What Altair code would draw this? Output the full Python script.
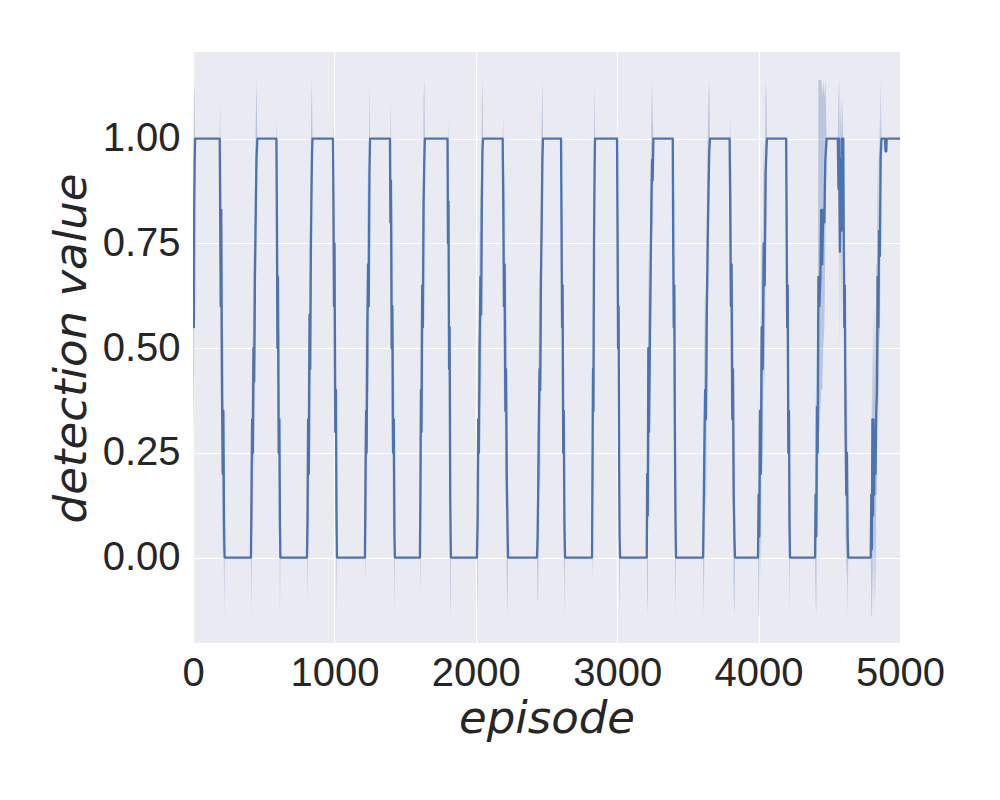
import altair as alt
import pandas as pd

# episode positions of the sampled points (flats are implied between transitions)
episode = [
    0, 3, 6, 9, 12, 15,
    189, 192, 196, 200, 205, 210, 215, 219, 222, 224,
    410, 414, 418, 423, 428, 433, 438, 444, 449, 455,
    590, 593, 597, 601, 606, 611, 615, 618,
    806, 810, 814, 819, 824, 829, 834, 839, 842, 845,
    990, 993, 997, 1001, 1006, 1011, 1015, 1018,
    1216, 1220, 1224, 1228, 1233, 1238, 1243, 1248, 1252,
    1393, 1396, 1400, 1405, 1410, 1415, 1420, 1425, 1428,
    1605, 1608, 1612, 1616, 1621, 1626, 1631, 1636, 1640,
    1800, 1803, 1807, 1811, 1815, 1819, 1822, 1824,
    2008, 2012, 2017, 2022, 2027, 2033, 2038, 2043, 2047, 2051,
    2190, 2194, 2199, 2204, 2209, 2214, 2219, 2224, 2228,
    2433, 2437, 2441, 2446, 2451, 2456, 2461, 2466, 2471, 2475,
    2603, 2606, 2610, 2614, 2618, 2622, 2627, 2631,
    2822, 2825, 2829, 2832, 2836, 2840, 2843,
    2999, 3002, 3006, 3010, 3014, 3017, 3020,
    3209, 3212, 3216, 3220, 3225, 3230, 3236, 3242, 3247, 3251, 3256,
    3393, 3396, 3400, 3404, 3408, 3412, 3416,
    3607, 3611, 3616, 3622, 3628, 3634, 3640, 3646, 3651, 3656,
    3795, 3799, 3804, 3809, 3814, 3819, 3824, 3829, 3833,
    3996, 4000, 4005, 4010, 4016, 4022, 4029, 4036, 4043, 4050, 4055, 4059,
    4195, 4198, 4202, 4206, 4210, 4215, 4219, 4222,
    4399, 4403, 4408, 4413, 4418, 4423, 4430, 4437, 4443, 4450, 4457, 4465, 4472, 4481,
    4560, 4565, 4570, 4575, 4580, 4585, 4590,
    4599, 4602, 4606, 4610, 4615, 4620, 4625, 4630, 4634,
    4793, 4797, 4801, 4805, 4809, 4813, 4817, 4822, 4827, 4832, 4837, 4842, 4847, 4852, 4858, 4863, 4869,
    4894, 4897, 4903, 4906, 5000,
]

# mean detection value
detection = [
    0.60, 0.75, 0.55, 0.85, 0.95, 1,
    1, 0.83, 0.60, 0.83, 0.40, 0.20, 0.35, 0.10, 0.02, 0,
    0, 0.17, 0.33, 0.25, 0.50, 0.42, 0.67, 0.83, 0.95, 1,
    1, 0.83, 0.50, 0.67, 0.25, 0.33, 0.08, 0,
    0, 0.10, 0.33, 0.20, 0.58, 0.45, 0.75, 0.90, 0.97, 1,
    1, 0.85, 0.60, 0.75, 0.30, 0.40, 0.10, 0,
    0, 0.20, 0.35, 0.25, 0.55, 0.70, 0.60, 0.92, 1,
    1, 0.80, 0.90, 0.50, 0.60, 0.25, 0.33, 0.05, 0,
    0, 0.15, 0.40, 0.30, 0.65, 0.55, 0.85, 0.95, 1,
    1, 0.75, 0.85, 0.45, 0.55, 0.15, 0.05, 0,
    0, 0.08, 0.33, 0.25, 0.50, 0.67, 0.58, 0.85, 0.97, 1,
    1, 0.85, 0.60, 0.70, 0.35, 0.45, 0.20, 0.08, 0,
    0, 0.05, 0.15, 0.33, 0.45, 0.40, 0.67, 0.80, 0.95, 1,
    1, 0.80, 0.55, 0.65, 0.25, 0.35, 0.08, 0,
    0, 0.20, 0.45, 0.35, 0.75, 0.92, 1,
    1, 0.80, 0.50, 0.60, 0.20, 0.05, 0,
    0, 0.20, 0.10, 0.50, 0.30, 0.47, 0.67, 0.85, 0.95, 0.90, 1,
    1, 0.75, 0.55, 0.65, 0.30, 0.10, 0,
    0, 0.10, 0.25, 0.40, 0.33, 0.60, 0.75, 0.88, 0.97, 1,
    1, 0.85, 0.60, 0.70, 0.33, 0.45, 0.15, 0.05, 0,
    0, 0.15, 0.05, 0.35, 0.20, 0.55, 0.45, 0.75, 0.65, 0.92, 0.97, 1,
    1, 0.80, 0.55, 0.65, 0.25, 0.35, 0.08, 0,
    0, 0.15, 0.05, 0.36, 0.25, 0.67, 0.60, 0.67, 0.83, 0.70, 0.83, 0.80, 0.95, 1,
    1, 0.88, 1.00, 0.73, 0.95, 0.78, 1.00,
    1, 0.75, 0.55, 0.65, 0.30, 0.15, 0.25, 0.05, 0,
    0, 0.15, 0.02, 0.33, 0.10, 0.33, 0.15, 0.30, 0.20, 0.35, 0.40, 0.67, 0.55, 0.78, 0.72, 0.95, 1,
    1, 0.97, 0.97, 1, 1,
]

# lower edge of the shaded band
band_lo = [
    0.20, 0.45, 0.30, 0.60, 0.85, 1,
    1, 0.70, 0.40, 0.65, 0.15, 0.00, 0.10, -0.05, -0.14, 0,
    0, -0.14, 0.10, 0.05, 0.25, 0.20, 0.45, 0.60, 0.80, 1,
    1, 0.65, 0.25, 0.45, 0.05, 0.10, -0.14, 0,
    0, -0.10, 0.10, 0.00, 0.35, 0.20, 0.50, 0.70, 0.85, 1,
    1, 0.70, 0.35, 0.50, 0.05, 0.15, -0.14, 0,
    0, -0.05, 0.10, 0.00, 0.30, 0.45, 0.35, 0.75, 1,
    1, 0.60, 0.70, 0.25, 0.35, 0.00, 0.10, -0.14, 0,
    0, -0.10, 0.15, 0.05, 0.40, 0.30, 0.65, 0.80, 1,
    1, 0.55, 0.65, 0.20, 0.30, -0.10, -0.14, 0,
    0, -0.14, 0.10, 0.00, 0.25, 0.45, 0.35, 0.65, 0.85, 1,
    1, 0.65, 0.35, 0.45, 0.10, 0.20, -0.05, -0.14, 0,
    0, -0.10, -0.10, 0.10, 0.20, 0.15, 0.45, 0.60, 0.80, 1,
    1, 0.60, 0.30, 0.40, 0.00, 0.10, -0.14, 0,
    0, -0.05, 0.20, 0.10, 0.50, 0.75, 1,
    1, 0.60, 0.25, 0.35, -0.05, -0.14, 0,
    0, -0.10, -0.14, 0.25, 0.05, 0.25, 0.45, 0.65, 0.80, 0.75, 1,
    1, 0.55, 0.30, 0.40, 0.05, -0.14, 0,
    0, -0.14, 0.00, 0.15, 0.10, 0.35, 0.50, 0.70, 0.85, 1,
    1, 0.65, 0.35, 0.45, 0.10, 0.20, -0.10, -0.14, 0,
    0, -0.14, -0.14, 0.10, -0.05, 0.30, 0.20, 0.50, 0.40, 0.75, 0.85, 1,
    1, 0.60, 0.30, 0.40, 0.00, 0.10, -0.14, 0,
    0, -0.10, -0.14, 0.15, 0.05, 0.30, 0.30, 0.35, 0.40, 0.40, 0.50, 0.55, 0.75, 1,
    1, 0.70, 0.90, 0.50, 0.80, 0.55, 0.90,
    1, 0.55, 0.30, 0.40, 0.05, -0.05, 0.00, -0.14, 0,
    0, -0.14, -0.14, 0.00, -0.14, 0.10, -0.14, 0.05, -0.10, 0.15, 0.15, 0.45, 0.30, 0.55, 0.50, 0.80, 1,
    1, 0.97, 0.97, 1, 1,
]

# upper edge of the shaded band
band_hi = [
    1.00, 1.14, 0.80, 1.10, 1.14, 1,
    1, 1.10, 0.85, 1.00, 0.65, 0.45, 0.55, 0.25, 0.15, 0,
    0, 0.35, 0.55, 0.45, 0.75, 0.65, 0.90, 1.05, 1.14, 1,
    1, 1.05, 0.75, 0.90, 0.50, 0.55, 0.25, 0,
    0, 0.30, 0.55, 0.40, 0.80, 0.70, 1.00, 1.14, 1.10, 1,
    1, 1.05, 0.85, 0.95, 0.55, 0.60, 0.30, 0,
    0, 0.45, 0.60, 0.50, 0.80, 0.95, 0.85, 1.14, 1,
    1, 1.00, 1.10, 0.75, 0.85, 0.50, 0.55, 0.20, 0,
    0, 0.35, 0.65, 0.55, 0.90, 0.80, 1.10, 1.14, 1,
    1, 0.95, 1.05, 0.70, 0.80, 0.35, 0.20, 0,
    0, 0.30, 0.55, 0.50, 0.75, 0.90, 0.80, 1.10, 1.14, 1,
    1, 1.05, 0.85, 0.95, 0.60, 0.70, 0.45, 0.25, 0,
    0, 0.20, 0.40, 0.55, 0.70, 0.65, 0.90, 1.05, 1.14, 1,
    1, 1.00, 0.80, 0.90, 0.50, 0.60, 0.25, 0,
    0, 0.45, 0.70, 0.60, 1.00, 1.14, 1,
    1, 1.05, 0.75, 0.85, 0.45, 0.20, 0,
    0, 0.45, 0.30, 0.75, 0.55, 0.70, 0.90, 1.05, 1.14, 1.05, 1,
    1, 0.95, 0.80, 0.90, 0.55, 0.30, 0,
    0, 0.30, 0.50, 0.65, 0.55, 0.85, 1.00, 1.10, 1.14, 1,
    1, 1.05, 0.85, 0.95, 0.55, 0.70, 0.40, 0.20, 0,
    0, 0.40, 0.25, 0.60, 0.45, 0.80, 0.70, 1.00, 0.90, 1.14, 1.10, 1,
    1, 1.00, 0.80, 0.90, 0.50, 0.60, 0.25, 0,
    0, 0.40, 0.30, 0.60, 0.50, 1.14, 1.14, 1.14, 1.14, 1.10, 1.14, 1.10, 1.14, 1,
    1, 1.10, 1.14, 0.95, 1.10, 1.00, 1.10,
    1, 1.00, 0.80, 0.90, 0.55, 0.35, 0.45, 0.20, 0,
    0, 0.40, 0.20, 0.55, 0.35, 0.60, 0.40, 0.60, 0.45, 0.70, 0.70, 0.95, 0.80, 1.05, 0.95, 1.14, 1,
    1, 0.97, 0.97, 1, 1,
]

x_ticks = [0, 1000, 2000, 3000, 4000, 5000]
y_ticks = [0.0, 0.25, 0.5, 0.75, 1.0]

assert len(episode) == len(detection) == len(band_lo) == len(band_hi), (
    len(episode), len(detection), len(band_lo), len(band_hi))

df = pd.DataFrame({"episode": episode, "value": detection, "lo": band_lo, "hi": band_hi})

LINE = "#4C72B0"
TEXT = "#262626"

x_enc = alt.X(
    "episode:Q",
    scale=alt.Scale(domain=[0, 5000], nice=False, zero=False),
    axis=alt.Axis(
        values=x_ticks, format="d", title="episode",
        grid=True, gridColor="white", gridWidth=1.2,
        domain=False, ticks=False, tickSize=0,
        labelFont="Liberation Sans", labelFontSize=40, labelColor=TEXT,
        labelBaseline="alphabetic", labelPadding=42, labelFlush=False, labelOverlap=False,
        titleFont="DejaVu Sans", titleFontStyle="italic", titleFontWeight="normal",
        titleFontSize=45, titleColor=TEXT,
        titleX=353.5, titleY=89, titleAlign="center", titleBaseline="alphabetic",
    ),
)

y_enc = alt.Y(
    "value:Q",
    scale=alt.Scale(domain=[-0.204, 1.207], nice=False, zero=False),
    axis=alt.Axis(
        values=y_ticks, format=".2f", title="detection value",
        grid=True, gridColor="white", gridWidth=1.2,
        domain=False, ticks=False, tickSize=0,
        labelFont="Liberation Sans", labelFontSize=40, labelColor=TEXT,
        labelAlign="right", labelBaseline="middle", labelPadding=13, labelOverlap=False,
        titleFont="DejaVu Sans", titleFontStyle="italic", titleFontWeight="normal",
        titleFontSize=45, titleColor=TEXT, titleAngle=270,
        titleX=-108, titleY=296, titleAlign="center", titleBaseline="alphabetic",
    ),
)

band = alt.Chart(df).mark_area(color=LINE, opacity=0.3, clip=True).encode(
    x=x_enc,
    y=alt.Y("lo:Q", scale=alt.Scale(domain=[-0.204, 1.207], nice=False, zero=False)),
    y2="hi:Q",
)

line = alt.Chart(df).mark_line(color=LINE, strokeWidth=2.3, strokeJoin="round", clip=True).encode(
    x=x_enc,
    y=y_enc,
)

chart = (
    alt.layer(band, line)
    .properties(
        width=707,
        height=591,
        autosize=alt.AutoSizeParams(type="none"),
        padding={"left": 185, "top": 44, "right": 92, "bottom": 149},
        background="white",
    )
    .configure_view(fill="#EAEAF2", strokeWidth=0)
)

chart.save("out.html", embed_options={"renderer": "svg", "actions": False})
